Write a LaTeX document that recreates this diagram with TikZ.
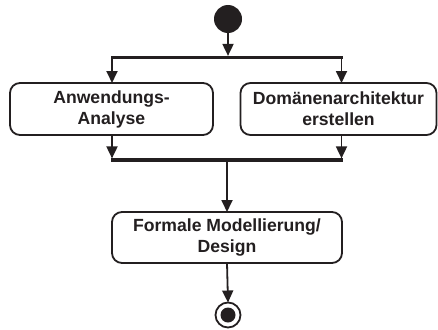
\documentclass[tikz,border=0pt]{standalone}
\usepackage{fontspec}
\setmainfont{Liberation Sans}
\usetikzlibrary{arrows.meta}
\definecolor{ink}{RGB}{35,31,32}
\begin{document}
\begin{tikzpicture}[x=1pt,y=-1pt,
  every node/.style={inner sep=0pt, outer sep=0pt},
  action/.style={draw=ink, line width=1.8pt, rounded corners=10pt, fill=white,
    align=center, font=\fontsize{17.6}{21}\selectfont\bfseries, text=ink},
  bar/.style={fill=ink, minimum height=3.2pt},
  flow/.style={draw=ink, line width=1.8pt, -{Triangle[length=12pt,width=11pt]}},
]
\useasboundingbox (0,0) rectangle (438,329);

% initial and final states
\node[circle, fill=ink, minimum size=28pt] (start) at (228,19) {};
\node[circle, draw=ink, line width=1.8pt, minimum size=25pt] (final) at (228,315) {};
\node[circle, fill=ink, minimum size=15pt] (finaldot) at (228,315) {};

% fork and join bars
\node[bar, minimum width=232pt] (fork) at (227,57.5) {};
\node[bar, minimum width=232pt] (join) at (227,160) {};

% actions
\node[action, minimum width=203pt, minimum height=52pt] (ana) at (111.5,109)
  {Anwendungs-\\Analyse};
\node[action, minimum width=196pt, minimum height=52pt] (dom) at (338.5,109)
  {Domänenarchitektur\\erstellen};
\node[action, minimum width=230pt, minimum height=51pt] (form) at (227,237.5)
  {Formale Modellierung/\\Design};

% control flow
\coordinate (fl) at ([xshift=1pt]fork.west);
\coordinate (fr) at ([xshift=-1.5pt]fork.east);
\coordinate (jl) at ([xshift=1pt]join.west);
\coordinate (jr) at ([xshift=-1.5pt]join.east);

\draw[flow] (start) -- (start |- fork.north);
\draw[flow] (fl) -- (fl |- ana.north);
\draw[flow] (fr) -- (fr |- dom.north);
\draw[flow] (fl |- ana.south) -- (jl |- join.north);
\draw[flow] (fr |- dom.south) -- (jr |- join.north);
\draw[flow] (join.south -| form.north) -- (form.north);
\draw[flow] (form.south) -- (final.north);
\end{tikzpicture}
\end{document}
